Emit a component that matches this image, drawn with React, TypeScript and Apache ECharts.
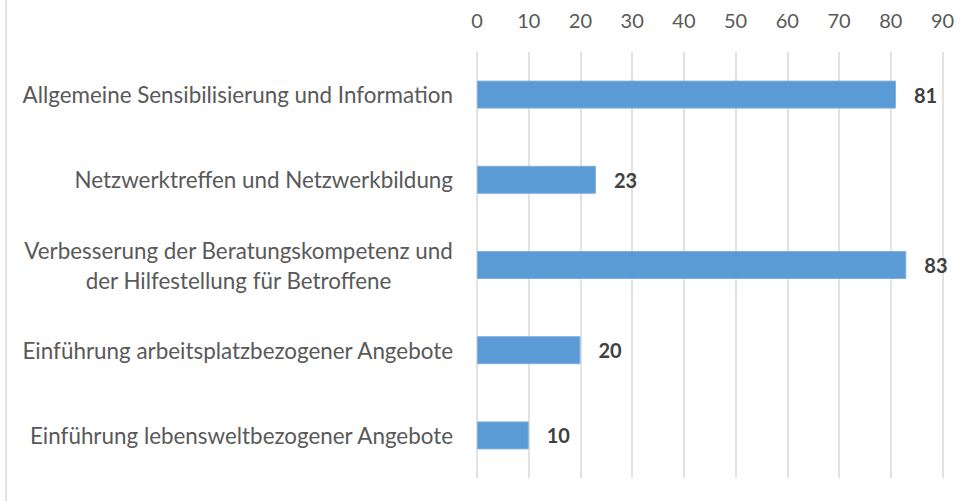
import React, { useEffect, useRef } from "react";
import * as echarts from "echarts";

const categories = [
  "Allgemeine Sensibilisierung und Information",
  "Netzwerktreffen und Netzwerkbildung",
  "Verbesserung der Beratungskompetenz und\nder Hilfestellung für Betroffene",
  "Einführung arbeitsplatzbezogener Angebote",
  "Einführung lebensweltbezogener Angebote",
];
const values = [81, 23, 83, 20, 10];
const axisMin = 0;
const axisMax = 90;
const axisInterval = 10;

export default function App() {
  const ref = useRef<HTMLDivElement>(null);
  useEffect(() => {
    if (!ref.current) return;
    const chart = echarts.init(ref.current, undefined, { renderer: "svg" });
    const font = "Lato, 'Open Sans', sans-serif";
    chart.setOption({
      animation: false,
      backgroundColor: "#ffffff",
      textStyle: { fontFamily: font },
      grid: { left: 477, right: 29.5, top: 52, bottom: 23, containLabel: false },
      xAxis: {
        type: "value",
        position: "top",
        min: axisMin,
        max: axisMax,
        interval: axisInterval,
        axisLine: { show: false },
        axisTick: { show: false },
        axisLabel: { color: "#595959", fontSize: 20, margin: 22, fontFamily: font },
        splitLine: { show: true, lineStyle: { color: "#d9d9d9", width: 1.5 } },
      },
      yAxis: {
        type: "category",
        inverse: true,
        data: categories,
        axisLine: { show: false },
        axisTick: { show: false },
        axisLabel: {
          color: "#595959",
          fontSize: 22.4,
          margin: 24,
          fontFamily: font,
          lineHeight: 30,
          formatter: (v: string) =>
            v.indexOf("\n") >= 0
              ? v.split("\n").map((s) => "{c|" + s + "}").join("\n")
              : v,
          rich: {
            c: { align: "center", color: "#595959", fontSize: 22.4, lineHeight: 30, fontFamily: font },
          },
        },
      },
      series: [
        {
          type: "bar",
          data: values,
          barWidth: 28,
          itemStyle: { color: "#5b9bd5", borderColor: "#7fb0df", borderWidth: 1 },
          label: {
            show: true,
            position: "right",
            distance: 18,
            color: "#404040",
            fontWeight: "bold",
            fontSize: 20,
            fontFamily: font,
          },
        },
      ],
      graphic: [
        {
          type: "line",
          shape: { x1: 6, y1: 0, x2: 6, y2: 501 },
          style: { stroke: "#d9d9d9", lineWidth: 1.5 },
        },
      ],
    });
    return () => chart.dispose();
  }, []);
  return (
    <div
      ref={ref}
      style={{ position: "absolute", left: 0, top: 0, width: 972, height: 501 }}
    />
  );
}
